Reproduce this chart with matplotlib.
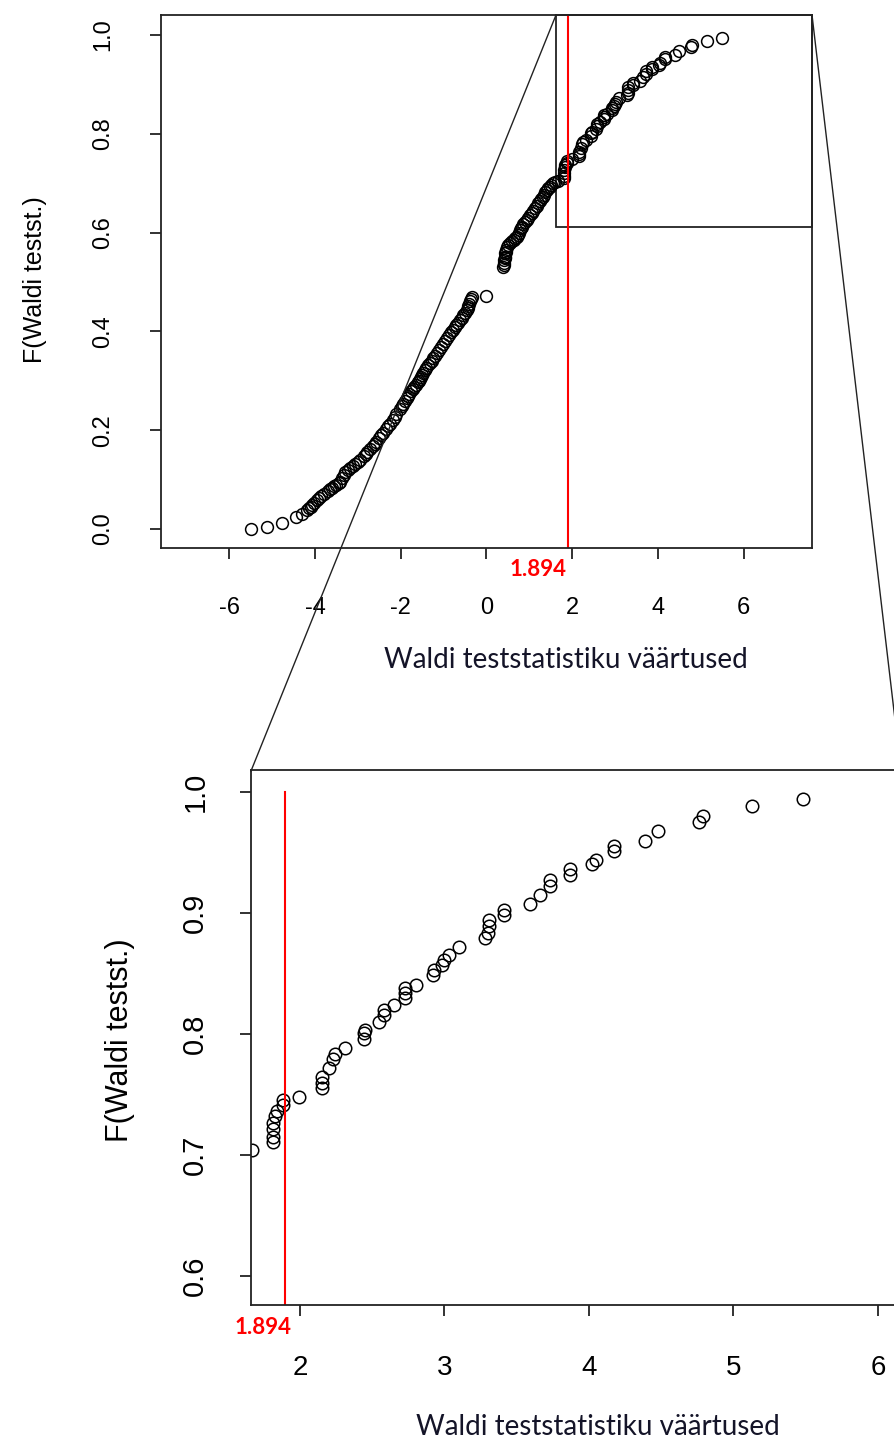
import numpy as np
import matplotlib.pyplot as plt
from matplotlib.lines import Line2D
from matplotlib.patches import Rectangle

plt.rcParams['axes.unicode_minus'] = False

# Wald test statistic values and their F values
wald = [-5.49, -5.12, -4.77, -4.44, -4.30, -4.19, -4.14, -4.10, -4.06, -4.02,
        -3.96, -3.90, -3.86, -3.78, -3.69, -3.64, -3.60, -3.55, -3.50, -3.45,
        -3.41, -3.36, -3.33, -3.30, -3.24, -3.18, -3.12, -3.06, -3.00, -2.95,
        -2.86, -2.82, -2.78, -2.72, -2.65, -2.61, -2.57, -2.50, -2.46, -2.42,
        -2.34, -2.30, -2.26, -2.18, -2.14, -2.10, -2.02, -1.98, -1.94, -1.90,
        -1.86, -1.83, -1.80, -1.76, -1.72, -1.68, -1.64, -1.60, -1.58, -1.55,
        -1.53, -1.50, -1.48, -1.44, -1.40, -1.36, -1.32, -1.28, -1.24, -1.20,
        -1.16, -1.11, -1.06, -1.01, -0.97, -0.92, -0.87, -0.82, -0.78, -0.74,
        -0.70, -0.66, -0.62, -0.58, -0.54, -0.50, -0.46, -0.44, -0.42, -0.40,
        -0.38, -0.36, -0.34, 0.00,
        0.39, 0.40, 0.40, 0.41, 0.42, 0.43, 0.44, 0.45, 0.46, 0.47,
        0.51, 0.55, 0.59, 0.63, 0.67, 0.70, 0.73, 0.75, 0.78, 0.80,
        0.82, 0.86, 0.90, 0.94, 0.97, 1.01, 1.05, 1.09, 1.13, 1.17,
        1.21, 1.25, 1.28, 1.31, 1.34, 1.37, 1.40, 1.44, 1.47, 1.50,
        1.54, 1.60,
        1.67, 1.815, 1.815, 1.815, 1.815, 1.83, 1.84, 1.885, 1.885, 1.99,
        2.15, 2.15, 2.15, 2.20, 2.23, 2.24, 2.31, 2.44, 2.44, 2.45,
        2.55, 2.58, 2.58, 2.65, 2.73, 2.73, 2.73, 2.80, 2.92, 2.925,
        2.98, 3.00, 3.03, 3.10, 3.28, 3.30, 3.31, 3.31, 3.41, 3.41,
        3.59, 3.66, 3.73, 3.73, 3.87, 3.87, 4.02, 4.05, 4.17, 4.17,
        4.39, 4.48, 4.76, 4.79, 5.13, 5.48]
fval = [0.000, 0.005, 0.012, 0.024, 0.031, 0.038, 0.042, 0.045, 0.049, 0.052,
        0.059, 0.062, 0.066, 0.071, 0.076, 0.080, 0.083, 0.087, 0.090, 0.093,
        0.096, 0.104, 0.110, 0.116, 0.120, 0.124, 0.128, 0.132, 0.136, 0.140,
        0.148, 0.152, 0.155, 0.161, 0.167, 0.172, 0.176, 0.185, 0.190, 0.194,
        0.203, 0.208, 0.212, 0.221, 0.226, 0.232, 0.243, 0.248, 0.254, 0.260,
        0.265, 0.270, 0.274, 0.279, 0.283, 0.288, 0.292, 0.297, 0.300, 0.304,
        0.308, 0.312, 0.316, 0.321, 0.326, 0.331, 0.336, 0.341, 0.346, 0.351,
        0.356, 0.362, 0.368, 0.374, 0.380, 0.386, 0.392, 0.398, 0.403, 0.408,
        0.413, 0.418, 0.423, 0.428, 0.433, 0.438, 0.443, 0.447, 0.452, 0.456,
        0.461, 0.465, 0.470, 0.472,
        0.531, 0.535, 0.538, 0.545, 0.548, 0.551, 0.558, 0.561, 0.565, 0.571,
        0.575, 0.578, 0.582, 0.585, 0.589, 0.592, 0.596, 0.600, 0.606, 0.609,
        0.612, 0.617, 0.621, 0.626, 0.630, 0.635, 0.639, 0.644, 0.649, 0.654,
        0.659, 0.664, 0.668, 0.672, 0.677, 0.682, 0.686, 0.690, 0.693, 0.697,
        0.700, 0.702,
        0.704, 0.711, 0.715, 0.721, 0.726, 0.732, 0.736, 0.741, 0.745, 0.748,
        0.755, 0.759, 0.764, 0.772, 0.779, 0.783, 0.788, 0.796, 0.801, 0.803,
        0.810, 0.816, 0.820, 0.824, 0.830, 0.834, 0.838, 0.840, 0.849, 0.853,
        0.857, 0.861, 0.865, 0.872, 0.879, 0.883, 0.889, 0.894, 0.898, 0.902,
        0.907, 0.915, 0.922, 0.927, 0.931, 0.936, 0.940, 0.944, 0.951, 0.955,
        0.959, 0.968, 0.975, 0.980, 0.988, 0.994]
crit = 1.894
top_xticks = [-6, -4, -2, 0, 2, 4, 6]
top_yticks = [0.0, 0.2, 0.4, 0.6, 0.8, 1.0]
bot_xticks = [2, 3, 4, 5, 6]
bot_yticks = [0.6, 0.7, 0.8, 0.9, 1.0]
xlab = 'Waldi teststatistiku väärtused'
ylab = 'F(Waldi testst.)'

W, H = 895, 1447
fig = plt.figure(figsize=(W / 100, H / 100), dpi=100)
fig.patch.set_facecolor('white')


def add_ax(l, t, r, b):
    return fig.add_axes([l / W, 1 - b / H, (r - l) / W, (b - t) / H])


def ftext(px, py, s, **kw):
    fig.text(px / W, 1 - py / H, s, **kw)


def r_style(ax, xsize, ysize, xpad, ypad):
    for sp in ax.spines.values():
        sp.set_linewidth(1.3)
        sp.set_color('#222222')
    ax.tick_params(direction='out', length=8, width=1.3, color='#222222')
    ax.tick_params(axis='x', labelsize=xsize, pad=xpad)
    ax.tick_params(axis='y', labelsize=ysize, pad=ypad)
    for lab in ax.get_xticklabels() + ax.get_yticklabels():
        lab.set_family('Liberation Sans')
    for lab in ax.get_yticklabels():
        lab.set_rotation(90)
        lab.set_va('center')


# top plot
ax1 = add_ax(161, 15, 812, 548)
ax1.plot(wald, fval, 'o', mfc='none', mec='black', ms=8.5, mew=1.1)
ax1.axvline(crit, color='red', lw=1.5)
ax1.add_patch(Rectangle((1.62, 0.611), 7.59 - 1.62, 1.0405 - 0.611,
                        fill=False, ec='#222222', lw=1.3, clip_on=False))
ax1.set_xlim(-7.59, 7.59)
ax1.set_ylim(-0.0385, 1.0405)
ax1.set_xticks(top_xticks)
ax1.set_yticks(top_yticks)
ax1.set_yticklabels(['%.1f' % v for v in top_yticks])
r_style(ax1, 17, 17, 27, 26)

# bottom (zoomed) plot
ax2 = add_ax(251, 770, 1130, 1305)
ax2.plot(wald, fval, 'o', mfc='none', mec='black', ms=9, mew=1.1)
ax2.plot([crit, crit], [0, 1], color='red', lw=1.5)
ax2.set_xlim(1.661, 7.744)
ax2.set_ylim(0.576, 1.018)
ax2.set_xticks(bot_xticks)
ax2.set_yticks(bot_yticks)
ax2.set_yticklabels(['%.1f' % v for v in bot_yticks])
r_style(ax2, 20, 21, 28, 22)

# axis titles
ftext(35, 280, ylab, rotation=90, ha='center', va='center', fontsize=18,
      family='Liberation Sans')
ftext(120, 1040, ylab, rotation=90, ha='center', va='center', fontsize=22,
      family='Liberation Sans')
ftext(566, 660, xlab, ha='center', va='center', fontsize=20, family='Lato',
      color='#141428')
ftext(598, 1427, xlab, ha='center', va='center', fontsize=20, family='Lato',
      color='#141428')

# critical value labels
ftext(567, 569, '%.3f' % crit, ha='right', va='center', fontsize=16,
      family='Lato', weight='bold', color='red')
ftext(292, 1328, '%.3f' % crit, ha='right', va='center', fontsize=16,
      family='Lato', weight='bold', color='red')

# connector lines from the zoom box to the lower plot
for (x0, y0), (x1, y1) in [((556, 15), (251, 771)), ((812, 15), (900, 762))]:
    fig.add_artist(Line2D([x0 / W, x1 / W], [1 - y0 / H, 1 - y1 / H],
                          transform=fig.transFigure, color='#222222', lw=1.0,
                          zorder=10))

fig.savefig('out.png', dpi=100)
